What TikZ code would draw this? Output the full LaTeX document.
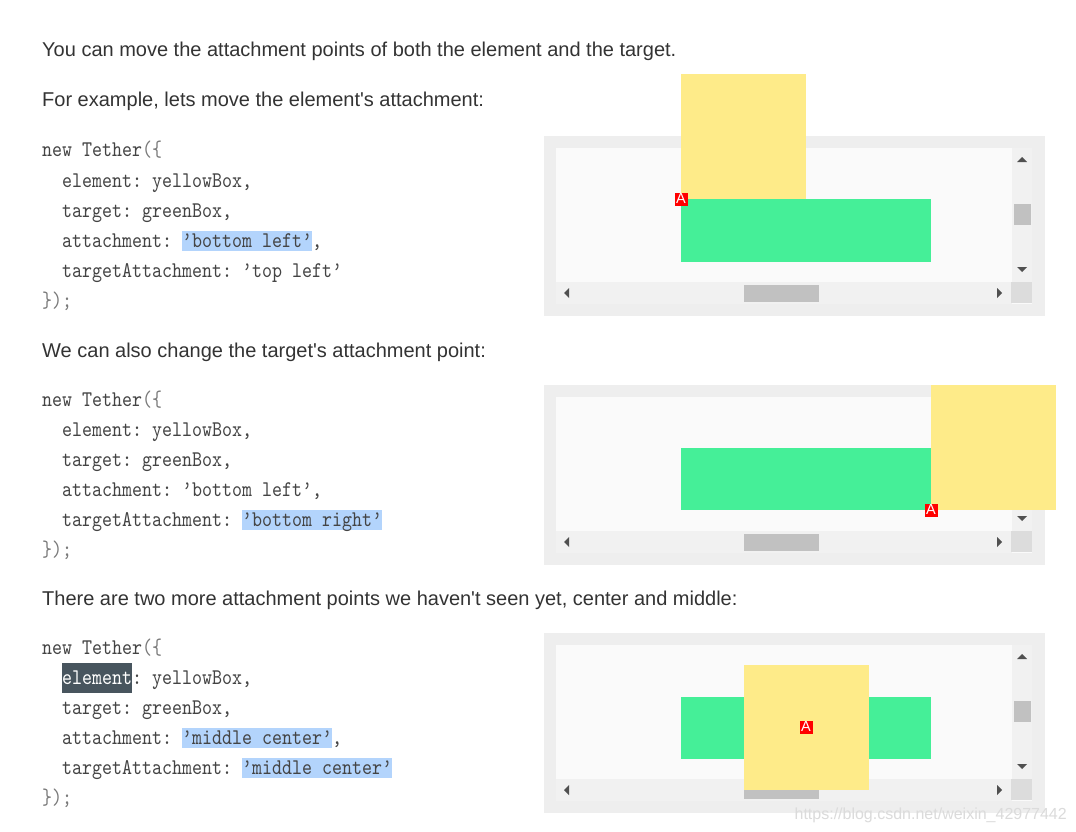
\documentclass[tikz,border=0pt]{standalone}
\usepackage{fontspec}
\setmainfont{Liberation Sans}[Ligatures=TeXOff]
\newfontfamily\codefont{lmmono10-regular.otf}[FakeStretch=0.85]
\definecolor{textgrey}{HTML}{333333}
\definecolor{codegrey}{HTML}{444444}
\definecolor{punct}{HTML}{7A7A7A}
\definecolor{hlblue}{HTML}{B3D4FC}
\definecolor{hldark}{HTML}{48555E}
\definecolor{outergrey}{HTML}{EEEEEE}
\definecolor{innergrey}{HTML}{FAFAFA}
\definecolor{bargrey}{HTML}{F1F1F1}
\definecolor{cornergrey}{HTML}{DCDCDC}
\definecolor{thumbgrey}{HTML}{C1C1C1}
\definecolor{arrowgrey}{HTML}{505050}
\definecolor{boxyellow}{HTML}{FEEB89}
\definecolor{boxgreen}{HTML}{45EF98}
\tikzset{
  prose/.style={anchor=base west, inner sep=0pt, font=\fontsize{20}{24}\selectfont, text=textgrey},
  codeline/.style={anchor=base west, inner sep=0pt, font=\codefont\fontsize{22.4}{26}\selectfont\frenchspacing, text=codegrey},
  marker/.style={fill=red, text=white, inner sep=0pt, minimum size=13pt, font=\fontsize{14.5}{14.5}\selectfont},
  demoframe/.pic={
    \fill[outergrey] (0,0) rectangle (501,180);
    \fill[innergrey] (12,12) rectangle (488,168);
    \fill[bargrey] (468,12) rectangle (488,146);
    \fill[bargrey] (12,146) rectangle (468,168);
    \fill[cornergrey] (467,146) rectangle (488,167);
    \fill[thumbgrey] (200,149) rectangle (275,166);
    \fill[thumbgrey] (470,68) rectangle (487,89);
    \fill[arrowgrey] (473,26) -- (483,26) -- (478,21) -- cycle;
    \fill[arrowgrey] (473,131) -- (483,131) -- (478,136) -- cycle;
    \fill[arrowgrey] (25,152) -- (25,162) -- (20,157) -- cycle;
    \fill[arrowgrey] (453,152) -- (453,162) -- (458,157) -- cycle;
  }
}
\newcommand{\pu}[1]{\textcolor{punct}{#1}}
\begin{document}
\begin{tikzpicture}[x=1pt,y=-1pt]
\useasboundingbox[fill=white] (0,0) rectangle (1076,832);

% prose
\node[prose] (p1) at (42,57) {You can move the attachment points of both the element and the target.};
\node[prose] (p2) at (42,107) {For example, lets move the element's attachment:};
\node[prose] (p3) at (42,357) {We can also change the target's attachment point:};
\node[prose] (p4) at (42,605) {There are two more attachment points we haven't seen yet, center and middle:};

% highlights
\fill[hlblue] (182,231) rectangle (312,251);
\fill[hlblue] (242,510) rectangle (382,530);
\fill[hldark] (62,663) rectangle (132,693);
\fill[hlblue] (182,728) rectangle (332,748);
\fill[hlblue] (242,758) rectangle (392,778);

% code block 1
\node[codeline] (a1) at (42,157) {new Tether\pu{(\{}};
\node[codeline] (a2) at (62,187) {element: yellowBox,};
\node[codeline] (a3) at (62,217) {target: greenBox,};
\node[codeline] (a4) at (62,247) {attachment: ’bottom left’,};
\node[codeline] (a5) at (62,277) {targetAttachment: ’top left’};
\node[codeline] (a6) at (42,307) {\pu{\});}};

% code block 2
\node[codeline] (b1) at (42,406) {new Tether\pu{(\{}};
\node[codeline] (b2) at (62,436) {element: yellowBox,};
\node[codeline] (b3) at (62,466) {target: greenBox,};
\node[codeline] (b4) at (62,496) {attachment: ’bottom left’,};
\node[codeline] (b5) at (62,526) {targetAttachment: ’bottom right’};
\node[codeline] (b6) at (42,556) {\pu{\});}};

% code block 3
\node[codeline] (c1) at (42,654) {new Tether\pu{(\{}};
\node[codeline] (c2) at (62,684) {\textcolor{white}{element}: yellowBox,};
\node[codeline] (c3) at (62,714) {target: greenBox,};
\node[codeline] (c4) at (62,744) {attachment: ’middle center’,};
\node[codeline] (c5) at (62,774) {targetAttachment: ’middle center’};
\node[codeline] (c6) at (42,804) {\pu{\});}};

% demo 1
\pic at (544,136) {demoframe};
\fill[boxgreen] (681,199) rectangle (931,262);
\fill[boxyellow] (681,74) rectangle (806,199);
\node[marker] (m1) at (681,199) {A};

% demo 2
\pic at (544,385) {demoframe};
\fill[boxgreen] (681,448) rectangle (931,510);
\fill[boxyellow] (931,385) rectangle (1056,510);
\node[marker] (m2) at (931,510) {A};

% demo 3
\pic at (544,633) {demoframe};
\fill[boxgreen] (681,697) rectangle (931,759);
\fill[boxyellow] (744,665) rectangle (869,790);
\node[marker] (m3) at (806,727) {A};

% watermark
\node[anchor=base east, inner sep=0pt, font=\fontsize{16}{16}\selectfont, text=black!14] (wm) at (1067,819) {https://blog.csdn.net/weixin\_42977442};
\end{tikzpicture}
\end{document}
